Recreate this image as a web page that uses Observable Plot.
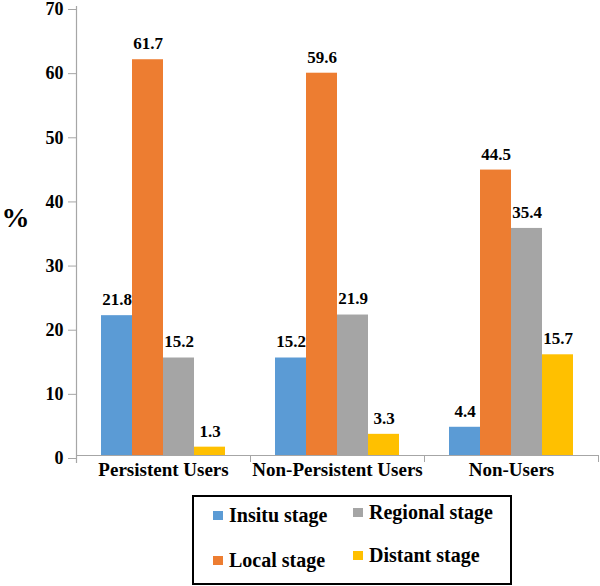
<!DOCTYPE html>
<html>
<head>
<meta charset="utf-8">
<script src="https://cdn.jsdelivr.net/npm/d3@7"></script>
<script src="https://cdn.jsdelivr.net/npm/@observablehq/plot@0.6"></script>
<style>
  html, body { margin: 0; padding: 0; background: white; }
  #wrap { position: relative; width: 600px; height: 586px; font-family: "Liberation Serif", "DejaVu Serif", "Noto Serif", serif; }
  #legend { position: absolute; left: 192px; top: 495px; width: 316px; height: 86px; border: 2px solid #000; background: white; }
  .item { position: absolute; display: flex; align-items: center; font-size: 20px; font-weight: bold; line-height: 20px; height: 20px; color: #000; white-space: nowrap; }
  .sw { width: 10px; height: 9px; margin-right: 6px; }
</style>
</head>
<body>
<div id="wrap">
  <div id="chart"></div>
  <div id="legend"></div>
</div>
<script>
const categories = ["Persistent Users", "Non-Persistent Users", "Non-Users"];
const stages = ["Insitu stage", "Local stage", "Regional stage", "Distant stage"];
const insitu = [21.8, 15.2, 4.4];
const local = [61.7, 59.6, 44.5];
const regional = [15.2, 21.9, 35.4];
const distant = [1.3, 3.3, 15.7];
const colors = ["#5B9BD5", "#ED7D31", "#A5A5A5", "#FFC000"];
const yTicks = [0, 10, 20, 30, 40, 50, 60, 70];
const yLabel = "%";

const series = [insitu, local, regional, distant];
const data = categories.flatMap((c, i) => stages.map((s, j) => ({category: c, stage: s, value: series[j][i]})));

const W = 600, H = 490, ML = 76, MR = 2, MT = 6, MB = 35;
const bandW = (W - ML - MR) / categories.length;
const axisGray = "#a6a6a6";
const FONT = "'Liberation Serif', 'DejaVu Serif', 'Noto Serif', serif";

const chart = Plot.plot({
  width: W, height: H,
  marginLeft: ML, marginRight: MR, marginTop: MT, marginBottom: MB,
  style: {fontFamily: FONT, fontSize: "16px", color: "black", background: "white", overflow: "visible"},
  fx: {domain: categories, padding: 0, label: null},
  x: {domain: stages, paddingInner: 0, paddingOuter: 0.76, axis: null},
  y: {domain: [0, 70], label: null},
  color: {domain: stages, range: colors},
  marks: [
    Plot.barY(data, {fx: "category", x: "stage", y: "value", fill: "stage"}),
    Plot.ruleY([0], {stroke: axisGray, strokeWidth: 1.2}),
    Plot.frame({anchor: "left", facet: "super", stroke: axisGray, strokeWidth: 1.2, insetBottom: -7}),
    Plot.axisY({ticks: yTicks, tickSize: 8, tickPadding: 5, stroke: axisGray, fill: "black", fontSize: 18, fontWeight: "bold", fontFamily: FONT, dy: 3, label: null, tickFormat: d => String(d)}),
    Plot.axisFx({anchor: "bottom", tickSize: 7, stroke: axisGray, dx: bandW / 2, tickFormat: () => "", label: null}),
    Plot.axisFx({anchor: "bottom", tickSize: 0, tickPadding: 7, fontSize: 19, fontWeight: "bold", fontFamily: FONT, fill: "black", label: null}),
    Plot.text(data, {fx: "category", x: "stage", y: "value", text: d => d.value.toFixed(1), dy: -16, fontSize: 17, fontWeight: "bold", fontFamily: FONT, fill: "black"}),
    Plot.text([yLabel], {frameAnchor: "left", facet: "super", textAnchor: "middle", dx: -61, dy: -13, fontSize: 28, fontWeight: "bold", fontFamily: FONT, fill: "black"})
  ]
});
document.getElementById("chart").appendChild(chart);

// Legend (column-major, 2 rows)
const legend = document.getElementById("legend");
const pos = [
  {left: 19, top: 8},   // Insitu
  {left: 19, top: 53},  // Local
  {left: 159, top: 5},  // Regional
  {left: 159, top: 48}  // Distant
];
stages.forEach((s, i) => {
  const it = document.createElement("div");
  it.className = "item";
  it.style.left = pos[i].left + "px";
  it.style.top = pos[i].top + "px";
  const sw = document.createElement("div");
  sw.className = "sw";
  sw.style.background = colors[i];
  const t = document.createElement("span");
  t.textContent = s;
  it.appendChild(sw);
  it.appendChild(t);
  legend.appendChild(it);
});
</script>
</body>
</html>
